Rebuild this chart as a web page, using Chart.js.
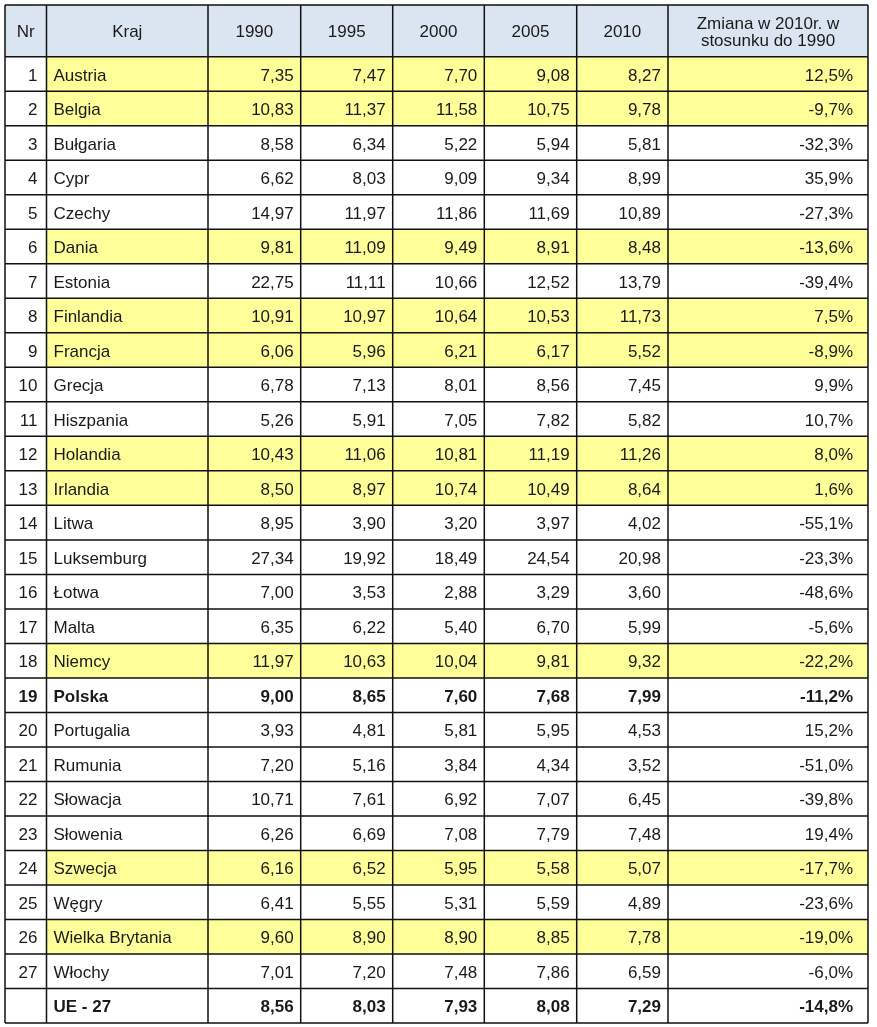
<!DOCTYPE html>
<html>
<head>
<meta charset="utf-8">
<script src="https://cdn.jsdelivr.net/npm/chart.js@4"></script>
<style>
  html, body { margin: 0; padding: 0; background: #fff; }
  canvas { display: block; }
</style>
</head>
<body>
<canvas id="tabela" width="877" height="1027"></canvas>
<script>
const headers = ['Nr', 'Kraj', '1990', '1995', '2000', '2005', '2010', 'Zmiana w 2010r. w|stosunku do 1990'];
const nr = [1, 2, 3, 4, 5, 6, 7, 8, 9, 10, 11, 12, 13, 14, 15, 16, 17, 18, 19, 20, 21, 22, 23, 24, 25, 26, 27, ''];
const kraj = ['Austria', 'Belgia', 'Bułgaria', 'Cypr', 'Czechy', 'Dania', 'Estonia', 'Finlandia', 'Francja', 'Grecja',
  'Hiszpania', 'Holandia', 'Irlandia', 'Litwa', 'Luksemburg', 'Łotwa', 'Malta', 'Niemcy', 'Polska', 'Portugalia',
  'Rumunia', 'Słowacja', 'Słowenia', 'Szwecja', 'Węgry', 'Wielka Brytania', 'Włochy', 'UE - 27'];
const v1990 = [7.35, 10.83, 8.58, 6.62, 14.97, 9.81, 22.75, 10.91, 6.06, 6.78, 5.26, 10.43, 8.50, 8.95, 27.34, 7.00, 6.35, 11.97, 9.00, 3.93, 7.20, 10.71, 6.26, 6.16, 6.41, 9.60, 7.01, 8.56];
const v1995 = [7.47, 11.37, 6.34, 8.03, 11.97, 11.09, 11.11, 10.97, 5.96, 7.13, 5.91, 11.06, 8.97, 3.90, 19.92, 3.53, 6.22, 10.63, 8.65, 4.81, 5.16, 7.61, 6.69, 6.52, 5.55, 8.90, 7.20, 8.03];
const v2000 = [7.70, 11.58, 5.22, 9.09, 11.86, 9.49, 10.66, 10.64, 6.21, 8.01, 7.05, 10.81, 10.74, 3.20, 18.49, 2.88, 5.40, 10.04, 7.60, 5.81, 3.84, 6.92, 7.08, 5.95, 5.31, 8.90, 7.48, 7.93];
const v2005 = [9.08, 10.75, 5.94, 9.34, 11.69, 8.91, 12.52, 10.53, 6.17, 8.56, 7.82, 11.19, 10.49, 3.97, 24.54, 3.29, 6.70, 9.81, 7.68, 5.95, 4.34, 7.07, 7.79, 5.58, 5.59, 8.85, 7.86, 8.08];
const v2010 = [8.27, 9.78, 5.81, 8.99, 10.89, 8.48, 13.79, 11.73, 5.52, 7.45, 5.82, 11.26, 8.64, 4.02, 20.98, 3.60, 5.99, 9.32, 7.99, 4.53, 3.52, 6.45, 7.48, 5.07, 4.89, 7.78, 6.59, 7.29];
const zmiana = [12.5, -9.7, -32.3, 35.9, -27.3, -13.6, -39.4, 7.5, -8.9, 9.9, 10.7, 8.0, 1.6, -55.1, -23.3, -48.6, -5.6, -22.2, -11.2, 15.2, -51.0, -39.8, 19.4, -17.7, -23.6, -19.0, -6.0, -14.8];
const wyroznione = ['Austria', 'Belgia', 'Dania', 'Finlandia', 'Francja', 'Holandia', 'Irlandia', 'Niemcy', 'Szwecja', 'Wielka Brytania'];
const pogrubione = ['Polska', 'UE - 27'];

// layout (table units = px offsets inside the chart area)
const colEdges = [0, 41.5, 203, 295.7, 387.7, 479.3, 571.7, 663, 863];
const headerH = 1.5;
const nRows = kraj.length;
const FONT = '"Liberation Sans", Arial, sans-serif';

const fmt = v => v.toFixed(2).replace('.', ',');
const fmtPct = v => v.toFixed(1).replace('.', ',') + '%';

const tablePlugin = {
  id: 'tablePlugin',
  beforeDatasetsDraw(chart) {
    const ctx = chart.ctx;
    const xs = chart.scales.x, ys = chart.scales.y;
    const X = v => xs.getPixelForValue(v);
    const Y = v => ys.getPixelForValue(v);
    const x0 = X(colEdges[0]), x1 = X(colEdges[colEdges.length - 1]);

    ctx.save();
    // header background
    ctx.fillStyle = '#dbe5f1';
    ctx.fillRect(x0, Y(0), x1 - x0, Y(headerH) - Y(0));
    // highlighted rows
    ctx.fillStyle = '#ffff99';
    kraj.forEach((k, i) => {
      if (wyroznione.includes(k)) {
        const top = Y(headerH + i), bot = Y(headerH + i + 1);
        ctx.fillRect(X(colEdges[1]), top, x1 - X(colEdges[1]), bot - top);
      }
    });

    // grid
    ctx.strokeStyle = '#111';
    ctx.lineWidth = 1.5;
    ctx.beginPath();
    colEdges.forEach(c => {
      ctx.moveTo(X(c), Y(0));
      ctx.lineTo(X(c), Y(headerH + nRows));
    });
    for (let r = 0; r <= nRows; r++) {
      ctx.moveTo(x0, Y(headerH + r));
      ctx.lineTo(x1, Y(headerH + r));
    }
    ctx.moveTo(x0, Y(0));
    ctx.lineTo(x1, Y(0));
    ctx.stroke();

    // header text
    ctx.fillStyle = '#1a1a1a';
    ctx.font = '17px ' + FONT;
    ctx.textAlign = 'center';
    ctx.textBaseline = 'middle';
    headers.forEach((h, c) => {
      const cx = (X(colEdges[c]) + X(colEdges[c + 1])) / 2;
      const lines = h.split('|');
      const cy = Y(headerH / 2) + 1.5;
      const lh = 17;
      lines.forEach((ln, j) => {
        ctx.fillText(ln, cx, cy + (j - (lines.length - 1) / 2) * lh);
      });
    });

    // body text
    const numCols = [v1990, v1995, v2000, v2005, v2010];
    kraj.forEach((k, i) => {
      const bold = pogrubione.includes(k);
      ctx.font = (bold ? 'bold ' : '') + '17px ' + FONT;
      const cy = Y(headerH + i + 0.5) + 2;
      ctx.textAlign = 'right';
      ctx.fillText(String(nr[i]), X(colEdges[1]) - 9, cy);
      ctx.textAlign = 'left';
      ctx.fillText(k, X(colEdges[1]) + 7, cy);
      ctx.textAlign = 'right';
      numCols.forEach((arr, c) => {
        ctx.fillText(fmt(arr[i]), X(colEdges[c + 3]) - 7, cy);
      });
      ctx.fillText(fmtPct(zmiana[i]), X(colEdges[8]) - 15, cy);
    });
    ctx.restore();
  }
};

new Chart(document.getElementById('tabela').getContext('2d'), {
  type: 'scatter',
  data: { datasets: [{ data: [] }] },
  options: {
    responsive: false,
    devicePixelRatio: 1,
    animation: false,
    layout: { padding: { left: 5, top: 5, right: 9, bottom: 4 } },
    plugins: { legend: { display: false }, tooltip: { enabled: false } },
    scales: {
      x: { type: 'linear', display: false, min: colEdges[0], max: colEdges[colEdges.length - 1] },
      y: { type: 'linear', display: false, reverse: true, min: 0, max: headerH + nRows }
    }
  },
  plugins: [tablePlugin]
});
</script>
</body>
</html>
